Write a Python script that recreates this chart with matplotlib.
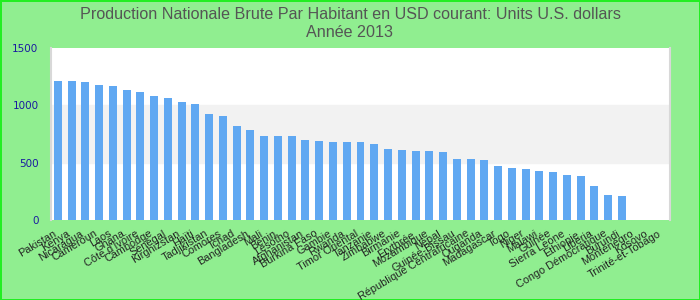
import matplotlib
matplotlib.use("Agg")
import matplotlib.pyplot as plt
import matplotlib.transforms as mtransforms
import numpy as np

countries = ["Pakistan", "Kenya", "Nicaragua", "Cameroun", "Laos", "Ghana",
             "Côte d'Ivoire", "Cambodge", "Sénégal", "Kirghizstan", "Haïti",
             "Tadjikistan", "Comores", "Tchad", "Bangladesh", "Mali", "Bénin",
             "Lesotho", "Afghanistan", "Burkina Faso", "Gambie", "Rwanda",
             "Timor Oriental", "Tanzanie", "Zimbabwe", "Birmanie", "Érythrée",
             "Mozambique", "Népal", "Guinée-Bissau", "République Centrafricaine",
             "Ouganda", "Madagascar", "Togo", "Niger", "Malawi", "Guinée",
             "Sierra Leone", "Éthiopie", "Liberia", "Congo Démocratique",
             "Burundi", "Monténégro", "Kosovo", "Trinité-et-Tobago"]
values = [1212, 1212, 1203, 1177, 1168, 1134, 1116, 1081, 1064, 1029, 1012,
          924, 907, 820, 785, 733, 733, 733, 698, 689, 680, 680, 680, 663,
          619, 610, 602, 602, 593, 532, 532, 523, 471, 453, 445, 427, 419,
          392, 384, 297, 218, 209, np.nan, np.nan, np.nan]
yticks = [0, 500, 1000, 1500]

title = "Production Nationale Brute Par Habitant en USD courant: Units U.S. dollars\nAnnée 2013"

fig = plt.figure(figsize=(7, 3), dpi=100, facecolor="#90ee90",
                 edgecolor="#22ee22", linewidth=2)
ax = fig.add_axes([51/700, 80/300, 619/700, 172/300])
ax.set_facecolor("white")

x = np.arange(len(countries))
ax.axhspan(500, 1000, color="#f2f2f2", zorder=0)
ax.bar(x, values, width=0.58, color="#60a8f2", zorder=2)

ax.set_xlim(-0.5, len(countries) - 0.5)
ax.set_ylim(0, 1500)
ax.set_yticks(yticks)
ax.set_yticklabels([str(v) for v in yticks], color="#1a1aa0", fontsize=7.5)
ax.set_xticks(x)
ax.set_xticklabels(countries, rotation=31, ha="right", rotation_mode="anchor",
                   fontsize=7.8, color="#222222", family="Liberation Sans")
ax.tick_params(length=0, pad=9)
ax.tick_params(axis="x", pad=6)
# nudge the slanted labels a little left of their ticks
shift = mtransforms.ScaledTranslation(-5/100, 0, fig.dpi_scale_trans)
for lbl in ax.get_xticklabels():
    lbl.set_transform(lbl.get_transform() + shift)

for side in ["top", "bottom"]:
    ax.spines[side].set_visible(False)
for side in ["left", "right"]:
    ax.spines[side].set_color("#d8d8d8")
    ax.spines[side].set_linewidth(1.5)

fig.text(0.5, 0.978, title, ha="center", va="top", fontsize=11.6,
         color="#555555", linespacing=1.3, family="Liberation Sans")

fig.savefig("out.png", dpi=100, facecolor=fig.get_facecolor(),
            edgecolor=fig.get_edgecolor())
